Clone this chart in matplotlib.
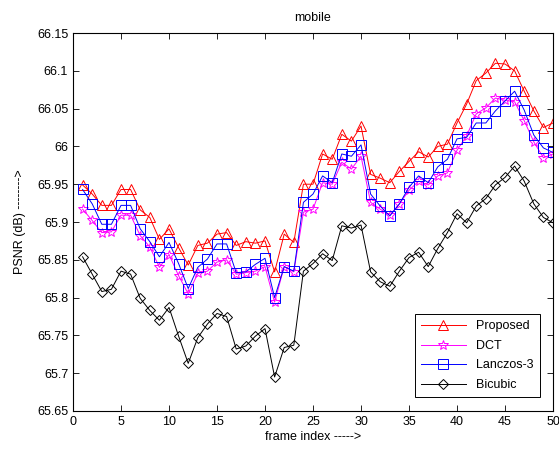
import matplotlib
matplotlib.use("Agg")
import matplotlib.pyplot as plt
import numpy as np
from matplotlib.ticker import FuncFormatter

frames = np.arange(1, 51)

proposed = [65.949, 65.937, 65.922, 65.922, 65.943, 65.943, 65.916, 65.906, 65.877, 65.891,
            65.866, 65.843, 65.869, 65.872, 65.884, 65.886, 65.869, 65.874, 65.872, 65.875,
            65.834, 65.884, 65.873, 65.950, 65.950, 65.990, 65.983, 66.016, 66.007, 66.027,
            65.963, 65.958, 65.952, 65.967, 65.980, 65.993, 65.986, 66.000, 66.003, 66.031,
            66.056, 66.087, 66.097, 66.110, 66.109, 66.100, 66.073, 66.047, 66.025, 66.031]

dct = [65.917, 65.902, 65.886, 65.887, 65.909, 65.909, 65.882, 65.867, 65.840, 65.857,
       65.829, 65.805, 65.832, 65.835, 65.847, 65.850, 65.831, 65.833, 65.835, 65.841,
       65.794, 65.841, 65.834, 65.913, 65.917, 65.952, 65.950, 65.979, 65.970, 65.987,
       65.926, 65.917, 65.909, 65.924, 65.942, 65.954, 65.949, 65.961, 65.965, 65.995,
       66.014, 66.043, 66.051, 66.064, 66.061, 66.059, 66.034, 66.006, 65.985, 65.990]

lanczos = [65.943, 65.924, 65.897, 65.897, 65.922, 65.922, 65.891, 65.874, 65.854, 65.873,
           65.845, 65.812, 65.840, 65.851, 65.871, 65.871, 65.833, 65.834, 65.844, 65.852,
           65.800, 65.841, 65.835, 65.926, 65.937, 65.961, 65.952, 65.990, 65.987, 66.002,
           65.937, 65.921, 65.908, 65.924, 65.946, 65.961, 65.952, 65.973, 65.983, 66.010,
           66.012, 66.031, 66.031, 66.047, 66.060, 66.073, 66.048, 66.015, 65.998, 65.992]

bicubic = [65.854, 65.831, 65.808, 65.811, 65.835, 65.831, 65.799, 65.783, 65.770, 65.787,
           65.749, 65.713, 65.747, 65.765, 65.779, 65.775, 65.732, 65.736, 65.749, 65.759,
           65.695, 65.734, 65.737, 65.835, 65.845, 65.858, 65.849, 65.895, 65.892, 65.896,
           65.834, 65.821, 65.815, 65.835, 65.853, 65.860, 65.841, 65.865, 65.886, 65.911,
           65.899, 65.921, 65.931, 65.949, 65.959, 65.974, 65.954, 65.924, 65.906, 65.899]

series = [
    ("Proposed", proposed, "red", "^", 7),
    ("DCT", dct, "magenta", "*", 7),
    ("Lanczos-3", lanczos, "blue", "s", 7),
    ("Bicubic", bicubic, "black", "D", 5),
]

plt.rcParams['font.family'] = ['Liberation Sans', 'DejaVu Sans']

fig = plt.figure(figsize=(5.59, 4.51), dpi=100)
ax = fig.add_axes([0.1306, 0.0887, 0.8587, 0.8381])

for name, vals, col, mk, ms in series:
    ax.plot(frames, vals, color=col, linewidth=0.7, marker=mk, markersize=ms,
            markerfacecolor="none", markeredgecolor=col, markeredgewidth=0.7, label=name)

ax.set_xlim(0, 50)
ax.set_ylim(65.65, 66.15)
ax.set_xticks(np.arange(0, 51, 5))
ax.set_yticks(np.arange(65.65, 66.151, 0.05))
ax.yaxis.set_major_formatter(FuncFormatter(lambda v, p: "%g" % round(v, 2)))
ax.tick_params(direction="in", top=True, right=True, labelsize=9, length=4, width=0.6)
for s in ax.spines.values():
    s.set_linewidth(0.8)

ax.set_title("mobile", fontsize=9, pad=9)
ax.set_xlabel("frame index ----->", fontsize=9, labelpad=2)
ax.set_ylabel("PSNR (dB) -------->", fontsize=9, labelpad=8)

leg = ax.legend(loc="lower right", fontsize=9, fancybox=False, framealpha=1,
                edgecolor="black", borderpad=0.5, handlelength=3.6, labelspacing=0.6,
                bbox_to_anchor=(0.985, 0.02))
leg.get_frame().set_linewidth(0.7)

fig.savefig("out.png", dpi=100)
